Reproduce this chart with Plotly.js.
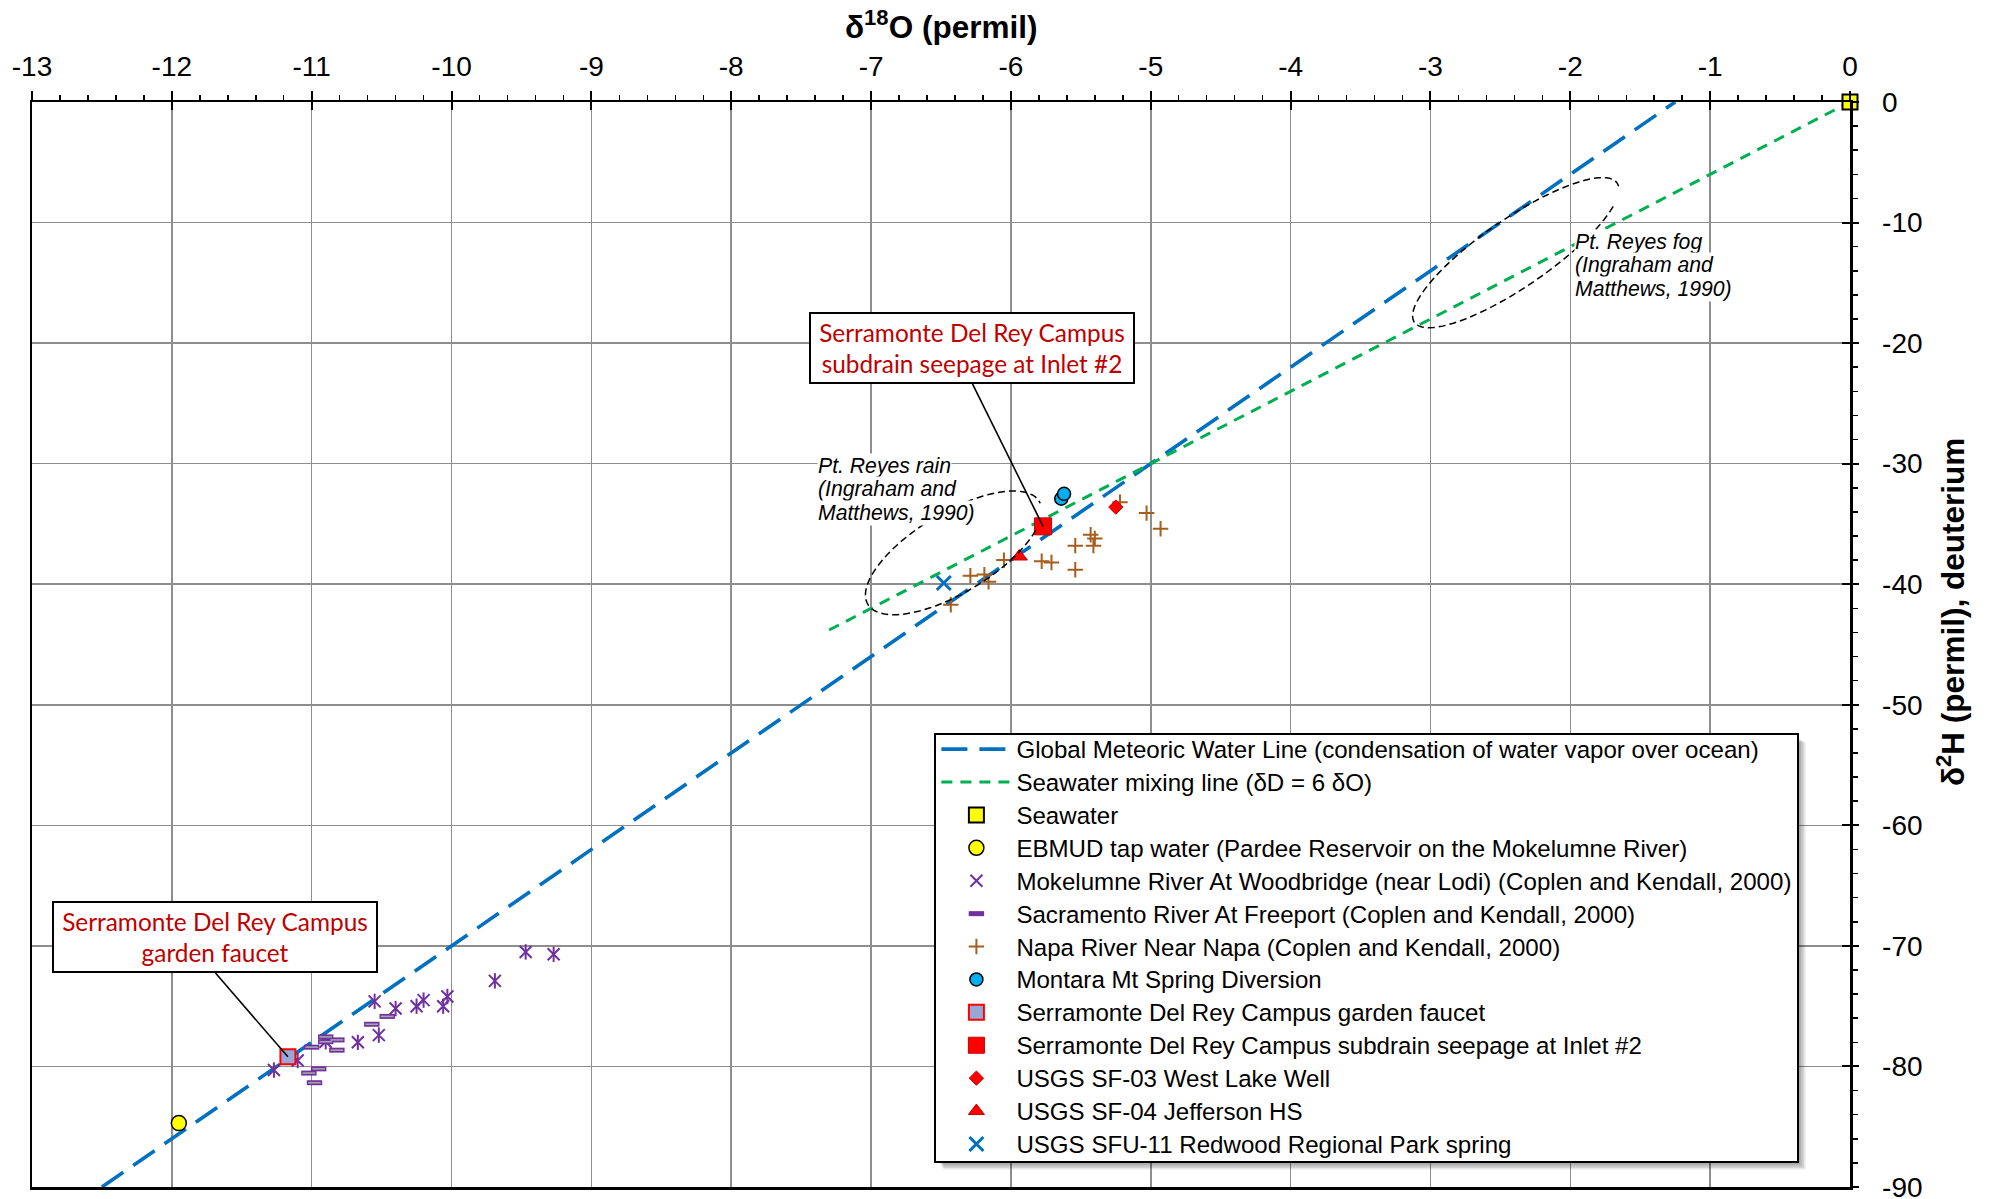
<!DOCTYPE html>
<html><head><meta charset="utf-8">
<script src="https://cdn.plot.ly/plotly-3.0.1.min.js"></script>
<style>html,body{margin:0;padding:0;background:#fff;}#chart{width:1990px;height:1199px;}</style>
</head><body><div id="chart"></div>
<script>
// ---------- data ----------
const xTickVals = [-13,-12,-11,-10,-9,-8,-7,-6,-5,-4,-3,-2,-1,0];
const xTickText = ['-13','-12','-11','-10','-9','-8','-7','-6','-5','-4','-3','-2','-1','0'];
const yTickVals = [0,-10,-20,-30,-40,-50,-60,-70,-80,-90];
const yTickText = ['0','-10','-20','-30','-40','-50','-60','-70','-80','-90'];

const gmwlX = [-12.5, -1.25];
const gmwlY = [-90, 0];
const mixX = [-7.3, 0];
const mixY = [-43.8, 0];

const seawaterX = [0];      const seawaterY = [0];
const ebmudX = [-11.95];    const ebmudY = [-84.7];
const mokeX = [-9.47,-9.27,-9.69,-10.03,-10.06,-10.2,-10.25,-10.4,-10.55,-10.52,-10.67,-10.9,-11.1,-11.27];
const mokeY = [-70.5,-70.7,-72.9,-74.2,-75.0,-74.5,-75.0,-75.2,-74.6,-77.4,-78.0,-77.95,-79.5,-80.3];
const sacX = [-11.0,-10.9,-10.9,-10.82,-10.82,-10.57,-10.46,-11.02,-10.95,-10.98];
const sacY = [-78.4,-77.55,-77.95,-77.8,-78.65,-76.5,-75.85,-80.55,-80.2,-81.35];
const napaX = [-5.22,-5.03,-4.93,-5.43,-5.40,-5.41,-5.54,-5.78,-5.71,-5.54,-6.05,-6.29,-6.19,-6.16,-6.43];
const napaY = [-33.2,-34.1,-35.4,-35.9,-36.2,-36.8,-36.8,-38.1,-38.2,-38.8,-38.0,-39.3,-39.2,-39.8,-41.7];
const montaraX = [-5.64,-5.62]; const montaraY = [-32.9,-32.5];
const faucetX = [-11.17];   const faucetY = [-79.2];
const subdrainX = [-5.77];  const subdrainY = [-35.2];
const sf03X = [-5.25];      const sf03Y = [-33.6];
const sf04X = [-5.94];      const sf04Y = [-37.7];
const sfu11X = [-6.48];     const sfu11Y = [-39.9];

const names = [
 'Global Meteoric Water Line (condensation of water vapor over ocean)',
 'Seawater mixing line (δD = 6 δO)',
 'Seawater',
 'EBMUD tap water (Pardee Reservoir on the Mokelumne River)',
 'Mokelumne River At Woodbridge (near Lodi) (Coplen and Kendall, 2000)',
 'Sacramento River At Freeport (Coplen and Kendall, 2000)',
 'Napa River Near Napa (Coplen and Kendall, 2000)',
 'Montara Mt Spring Diversion',
 'Serramonte Del Rey Campus garden faucet',
 'Serramonte Del Rey Campus subdrain seepage at Inlet #2',
 'USGS SF-03 West Lake Well',
 'USGS SF-04 Jefferson HS',
 'USGS SFU-11 Redwood Regional Park spring'
];
const rainLines = ['Pt. Reyes rain', '(Ingraham and', 'Matthews, 1990)'];
const fogLines = ['Pt. Reyes fog', '(Ingraham and', 'Matthews, 1990)'];
const calloutSubdrain = 'Serramonte Del Rey Campus<br>subdrain seepage at Inlet #2';
const calloutFaucet = 'Serramonte Del Rey Campus<br>garden faucet';

// ---------- geometry ----------
const W = 1990, H = 1199;
const M = {l:32, r:140, t:102, b:12};
const PW = W - M.l - M.r, PH = H - M.t - M.b;
const SX = PW / 13;   // px per δ18O unit
const SY = PH / 90;   // px per δ2H unit

const FONT = 'Liberation Sans, Arial, sans-serif';
const CAL = 'Lato, Carlito, Calibri, sans-serif';
const PURPLE = '#7030A0';

function pt(x, y, name, marker, extra) {
  return Object.assign({type:'scatter', mode:'markers', x:x, y:y, name:name, marker:marker, cliponaxis:false}, extra||{});
}

const traces = [
  {type:'scatter', mode:'lines', x:gmwlX, y:gmwlY, name:names[0],
   line:{color:'#0070C0', width:3.6, dash:'26px,12px'}},
  {type:'scatter', mode:'lines', x:mixX, y:mixY, name:names[1],
   line:{color:'#00B050', width:3, dash:'11px,8px'}},
  pt(seawaterX, seawaterY, names[2], {symbol:'square', size:15, color:'#FFFF00', line:{color:'#000', width:2}}),
  pt(ebmudX, ebmudY, names[3], {symbol:'circle', size:15, color:'#FFFF00', line:{color:'#000', width:1.5}}),
  pt(mokeX, mokeY, names[4], {symbol:'x-thin-open', size:12, color:PURPLE, line:{color:PURPLE, width:2}}),
  pt(mokeX, mokeY, names[4], {symbol:'line-ns-open', size:11, color:PURPLE, line:{color:PURPLE, width:2}}, {showlegend:false}),
  pt(sacX, sacY, names[5], {symbol:'line-ew-open', size:11, color:PURPLE, line:{color:PURPLE, width:5}}),
  pt(sacX, sacY, names[5], {symbol:'line-ew-open', size:9, color:'#A6A6A6', line:{color:'#A6A6A6', width:1.6}}, {showlegend:false}),
  pt(napaX, napaY, names[6], {symbol:'cross-thin-open', size:11, color:'#A65E1E', line:{color:'#A65E1E', width:2}}),
  pt(montaraX, montaraY, names[7], {symbol:'circle', size:13, color:'#00B0F0', line:{color:'#000', width:1.5}}),
  pt(faucetX, faucetY, names[8], {symbol:'square', size:15, color:'#95A8D6', line:{color:'#FF0000', width:2}}),
  pt(subdrainX, subdrainY, names[9], {symbol:'square', size:17, color:'#FF0000', line:{color:'#C00000', width:1}}),
  pt(sf03X, sf03Y, names[10], {symbol:'diamond', size:11, color:'#FF0000', line:{color:'#C00000', width:1}}),
  pt(sf04X, sf04Y, names[11], {symbol:'triangle-up', size:14, color:'#FF0000', line:{color:'#C00000', width:1}}),
  pt(sfu11X, sfu11Y, names[12], {symbol:'x-thin-open', size:14, color:'#0070C0', line:{color:'#0070C0', width:3}}),
  // empty trace that only carries the overlay axes (inner half of the major tick marks)
  {type:'scatter', mode:'markers', x:[], y:[], xaxis:'x2', yaxis:'y2', showlegend:false, hoverinfo:'skip'}
];

// dashed loops (decoration), centre in data units, radii in px
const loops = [
  {cx:-6.41, cy:-37.4, a:100, b:40, ang:-31, gap:[5,35]},
  {cx:-2.39, cy:-12.5, a:123, b:34, ang:-34.5, gap:[8,30]}
];
function loopPath(L) {
  const th = L.ang*Math.PI/180, pts = [];
  for (let d = L.gap[1]; d <= L.gap[0] + 360; d += 4) {
    const t = d*Math.PI/180;
    const px = L.a*Math.cos(t)*Math.cos(th) - L.b*Math.sin(t)*Math.sin(th);
    const py = L.a*Math.cos(t)*Math.sin(th) + L.b*Math.sin(t)*Math.cos(th);
    pts.push((L.cx + px/SX).toFixed(4) + ',' + (L.cy - py/SY).toFixed(4));
  }
  return 'M' + pts.join('L');
}
const shapes = loops.map(L => ({type:'path', xref:'x', yref:'y', path:loopPath(L), layer:'above',
  line:{color:'#000', width:1.5, dash:'7px,4px'}}));

// callout boxes: centre in data units; leader line from the bottom centre of the box to the point
const BOX_W = 322, BOX_H = 68, BOX_BW = 2;
const callouts = [
  {text:calloutSubdrain, cx:-6.275, cy:-20.4, px:subdrainX[0], py:subdrainY[0]},
  {text:calloutFaucet,   cx:-11.688, cy:-69.27, px:faucetX[0], py:faucetY[0]}
];
callouts.forEach(c => shapes.push({type:'line', xref:'x', yref:'y', layer:'above',
  x0:c.cx, y0:c.cy - (BOX_H/2 + BOX_BW)/SY, x1:c.px, y1:c.py, line:{color:'#000', width:1.6}}));

// pixel (page) -> paper helpers
const paperX = px => (px - M.l) / PW;
const paperY = py => (H - M.b - py) / PH;

const annotations = [
  {xref:'paper', yref:'paper', x:0.5, y:paperY(25), xanchor:'center', yanchor:'middle',
   text:'<b>δ<sup>18</sup>O (permil)</b>', showarrow:false, font:{family:FONT, size:31.5, color:'#000'}},
  {xref:'paper', yref:'paper', x:paperX(1951), y:paperY(612), xanchor:'center', yanchor:'middle', textangle:-90,
   text:'<b>δ<sup>2</sup>H (permil), deuterium</b>', showarrow:false, font:{family:FONT, size:31.5, color:'#000'}}
];
callouts.forEach(c => annotations.push({xref:'x', yref:'y', x:c.cx, y:c.cy, xanchor:'center', yanchor:'middle',
  showarrow:false, width:BOX_W, height:BOX_H, bgcolor:'#fff', bordercolor:'#000', borderwidth:BOX_BW, borderpad:0,
  text:c.text, font:{family:CAL, size:24.4, color:'#C00000'}}));
// italic notes, one annotation per line to keep the tight line spacing
function noteLines(lines, leftPx, firstCenterPx, stepPx) {
  lines.forEach((s, i) => annotations.push({
    xref:'paper', yref:'paper', x:paperX(leftPx), y:paperY(firstCenterPx + i*stepPx),
    xanchor:'left', yanchor:'middle', align:'left', showarrow:false, bgcolor:'#fff', borderpad:0,
    text:'<i>' + s + '</i>', font:{family:FONT, size:21.2, color:'#000'}}));
}
noteLines(rainLines, 817, 466, 23.5);
noteLines(fogLines, 1574, 242, 23.3);

const axisCommon = {
  showgrid:true, gridcolor:'#8E8E8E', gridwidth:1.5, zeroline:false,
  showline:true, linecolor:'#000', linewidth:2.5, mirror:true,
  ticks:'outside', tickcolor:'#000', tickwidth:2, ticklabeloverflow:'allow',
  tickfont:{family:FONT, size:28, color:'#000'}, tickmode:'array'
};
const overlayCommon = {
  showgrid:false, zeroline:false, showline:false, showticklabels:false,
  ticks:'inside', ticklen:8, tickwidth:2, tickcolor:'#000', tickmode:'array'
};

const LEG_FONT_LAYOUT = 23;   // sets the row spacing
const LEG_FONT_DRAW = 24.1;   // glyph size seen in the reference

const layout = {
  width:W, height:H, margin:M, paper_bgcolor:'#fff', plot_bgcolor:'#fff',
  showlegend:true,
  xaxis: Object.assign({}, axisCommon, {range:[-13,0], side:'top', tickvals:xTickVals, ticktext:xTickText,
    ticklen:9, ticklabelstandoff:3,
    minor:{tickmode:'linear', tick0:0, dtick:0.2, ticks:'outside', ticklen:5, tickwidth:1.5, tickcolor:'#000', showgrid:false}}),
  yaxis: Object.assign({}, axisCommon, {range:[-90,0], side:'right', tickvals:yTickVals, ticktext:yTickText,
    ticklen:6, ticklabelstandoff:18,
    minor:{tickmode:'linear', tick0:0, dtick:2, ticks:'outside', ticklen:5, tickwidth:1.5, tickcolor:'#000', showgrid:false}}),
  xaxis2: Object.assign({}, overlayCommon, {overlaying:'x', side:'top', range:[-13,0], tickvals:xTickVals}),
  yaxis2: Object.assign({}, overlayCommon, {overlaying:'y', side:'right', range:[-90,0], tickvals:yTickVals}),
  legend:{x:paperX(934.4), xanchor:'left', y:paperY(733.3), yanchor:'top',
    bgcolor:'#fff', bordercolor:'#000', borderwidth:2, itemwidth:70, tracegroupgap:0, traceorder:'normal',
    font:{family:FONT, size:LEG_FONT_LAYOUT, color:'#000'}},
  shapes:shapes,
  annotations:annotations
};

// legend as in the reference: slightly larger glyphs, tighter padding
const LEG_SHIFT_UP = 7.6, LEG_TRIM = 12.7;
function tuneLegend(gd) {
  try {
    const texts = Array.from(gd.querySelectorAll('.legend text.legendtext'));
    let before = 0, after = 0;
    texts.forEach(t => { before = Math.max(before, t.getComputedTextLength()); });
    texts.forEach(t => { t.style.fontSize = LEG_FONT_DRAW + 'px'; });
    texts.forEach(t => { after = Math.max(after, t.getComputedTextLength()); });
    const bg = gd.querySelector('.legend rect.bg');
    if (bg) {
      bg.setAttribute('width', parseFloat(bg.getAttribute('width')) + (after - before));
      bg.setAttribute('height', parseFloat(bg.getAttribute('height')) - LEG_TRIM);
    }
    gd.querySelectorAll('.legend .scrollbox').forEach(n => {
      n.removeAttribute('clip-path');
      n.setAttribute('transform', (n.getAttribute('transform') || '') + ' translate(0,' + (-LEG_SHIFT_UP) + ')');
    });
    gd.querySelectorAll('.legend .scrollbar').forEach(n => n.remove());
  } catch (e) {}
}

Plotly.newPlot('chart', traces, layout, {staticPlot:true}).then(function(gd){
  tuneLegend(gd);
  const bg = gd.querySelector('.legend rect.bg');
  if (!bg) return;
  const r = bg.getBoundingClientRect();
  const s = gd._fullLayout._size;
  const px = v => (v - s.l)/s.w, py = v => 1 - (v - s.t)/s.h;
  const sh = [];
  for (let k = 1; k <= 5; k++) {
    sh.push({type:'rect', xref:'paper', yref:'paper', layer:'above',
      x0:px(r.left + 3 + k), x1:px(r.right + k*1.6), y0:py(r.bottom + k*1.6), y1:py(r.top + 3 + k),
      fillcolor:'rgba(0,0,0,0.09)', line:{width:0}});
  }
  return Plotly.relayout(gd, {shapes: shapes.concat(sh)});
});
</script></body></html>
